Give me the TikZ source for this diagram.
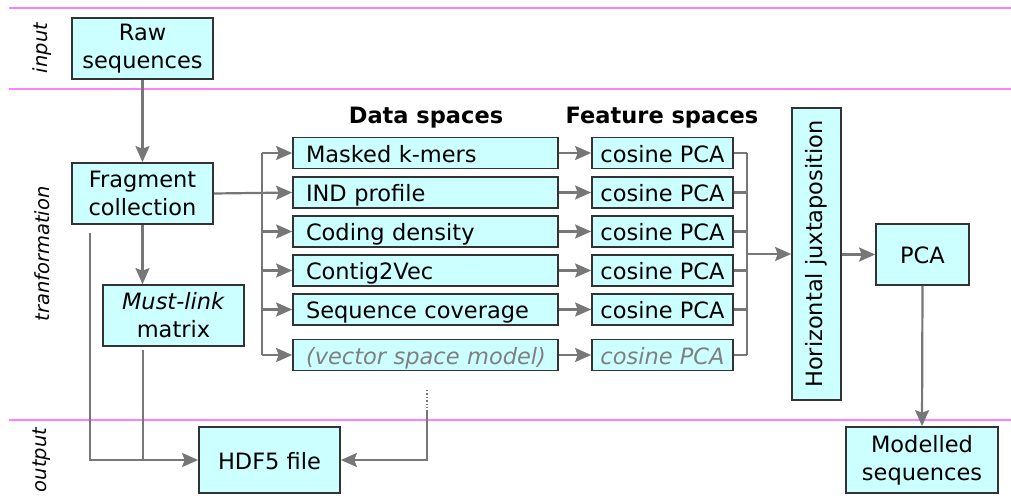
\documentclass[tikz,border=0pt]{standalone}
\usepackage{fontspec}
\setmainfont{DejaVu Sans}
\usetikzlibrary{arrows.meta}
\definecolor{boxfill}{HTML}{CCFFFF}
\definecolor{boxline}{HTML}{333333}
\definecolor{conn}{HTML}{777777}
\definecolor{lane}{HTML}{FF80FF}
\definecolor{faded}{HTML}{808080}
\begin{document}
\begin{tikzpicture}[x=1pt,y=-1pt,
  box/.style={draw=boxline,line width=1.7pt,fill=boxfill,inner sep=0pt,align=center,
    font=\fontsize{22.5}{28}\selectfont},
  oneline/.style={text height=18pt,text depth=0pt},
  databox/.style={box,oneline,minimum width=265pt,minimum height=31pt,text width=239pt,align=left},
  featbox/.style={box,oneline,minimum width=141pt,minimum height=31pt},
  line/.style={draw=conn,line width=2.2pt},
  arr/.style={line,-{Stealth[length=16pt,width=14pt,inset=2.5pt]}},
  lanelabel/.style={rotate=90,font=\fontsize{19.5}{24}\selectfont\itshape},
  header/.style={font=\fontsize{22.5}{27}\selectfont\bfseries}]
\useasboundingbox (0,0) rectangle (1011,495);
% lanes
\draw[lane,line width=2pt] (9,8) -- (1011,8);
\draw[lane,line width=2pt] (9,89) -- (1011,89);
\draw[lane,line width=2pt] (9,420) -- (1011,420);
\node[lanelabel] (lin) at (42,48) {input};
\node[lanelabel] (ltr) at (42,254) {tranformation};
\node[lanelabel] (lout) at (42,460) {output};
% headers
\node[header] (hdata) at (426,118) {Data spaces};
\node[header] (hfeat) at (662,118) {Feature spaces};
% main nodes
\node[box,minimum width=141pt,minimum height=61pt] (raw) at (142.5,48.5) {Raw\\sequences};
\node[box,minimum width=141pt,minimum height=61pt] (frag) at (142.5,193.5) {Fragment\\collection};
\node[box,minimum width=141pt,minimum height=61pt] (ml) at (173.5,315.5) {\textit{Must-link}\\matrix};
\node[box,oneline,minimum width=141pt,minimum height=66pt] (hdf) at (269.5,460) {HDF5 file};
\node[box,minimum width=49pt,minimum height=292pt] (hj) at (816.5,254) {};
\node[rotate=90,font=\fontsize{22.5}{28}\selectfont] (hjt) at (hj.center) {Horizontal juxtaposition};
\node[box,oneline,minimum width=93pt,minimum height=61pt] (pca) at (922.5,254.5) {PCA};
\node[box,minimum width=152pt,minimum height=66pt] (mod) at (922,460) {Modelled\\sequences};
% data spaces
\node[databox] (d1) at (425.5,153) {Masked k-mers};
\node[databox] (d2) at (425.5,192.5) {IND profile};
\node[databox] (d3) at (425.5,231.5) {Coding density};
\node[databox] (d4) at (425.5,270.5) {Contig2Vec};
\node[databox] (d5) at (425.5,309.5) {Sequence coverage};
\node[databox] (d6) at (425.5,355) {\mbox{\textcolor{faded}{\itshape (vector space model)}}};
% feature spaces
\node[featbox] (f1) at (662.5,153) {cosine PCA};
\node[featbox] (f2) at (662.5,192.5) {cosine PCA};
\node[featbox] (f3) at (662.5,231.5) {cosine PCA};
\node[featbox] (f4) at (662.5,270.5) {cosine PCA};
\node[featbox] (f5) at (662.5,309.5) {cosine PCA};
\node[featbox] (f6) at (662.5,355) {\textcolor{faded}{\itshape cosine PCA}};
% connectors
\draw[arr] (raw) -- (frag);
\draw[arr] (frag) -- (frag |- ml.north);
\coordinate (busx) at (262,0);
\coordinate (rbusx) at (747,0);
\draw[line] (busx |- d1.west) -- (busx |- d6.west);
\draw[arr] (frag.east) -- (d2.west);
\foreach \i in {1,3,4,5,6} {\draw[arr] (busx |- d\i.west) -- (d\i.west);}
\foreach \i in {1,...,6} {
  \draw[arr] (d\i.east) -- (f\i.west);
  \draw[line] (f\i.east) -- (rbusx |- f\i.east);
}
\draw[line] (rbusx |- f1.east) -- (rbusx |- f6.east);
\draw[arr] (rbusx |- hj.west) -- (hj.west);
\draw[arr] (hj.east |- pca.west) -- (pca.west);
\draw[arr] (pca.south) -- (mod.north);
% output connectors
\coordinate (fragout) at (90,233);
\draw[arr] (fragout) |- (hdf.west);
\coordinate (mlout) at (143,350);
\draw[line] (mlout) -- (mlout |- hdf.west);
\coordinate (more) at (427,390);
\coordinate (moreb) at (427,412);
\draw[line,line width=1.4pt,dotted] (more) -- (moreb);
\draw[arr] (moreb) |- (hdf.east);
\end{tikzpicture}
\end{document}
